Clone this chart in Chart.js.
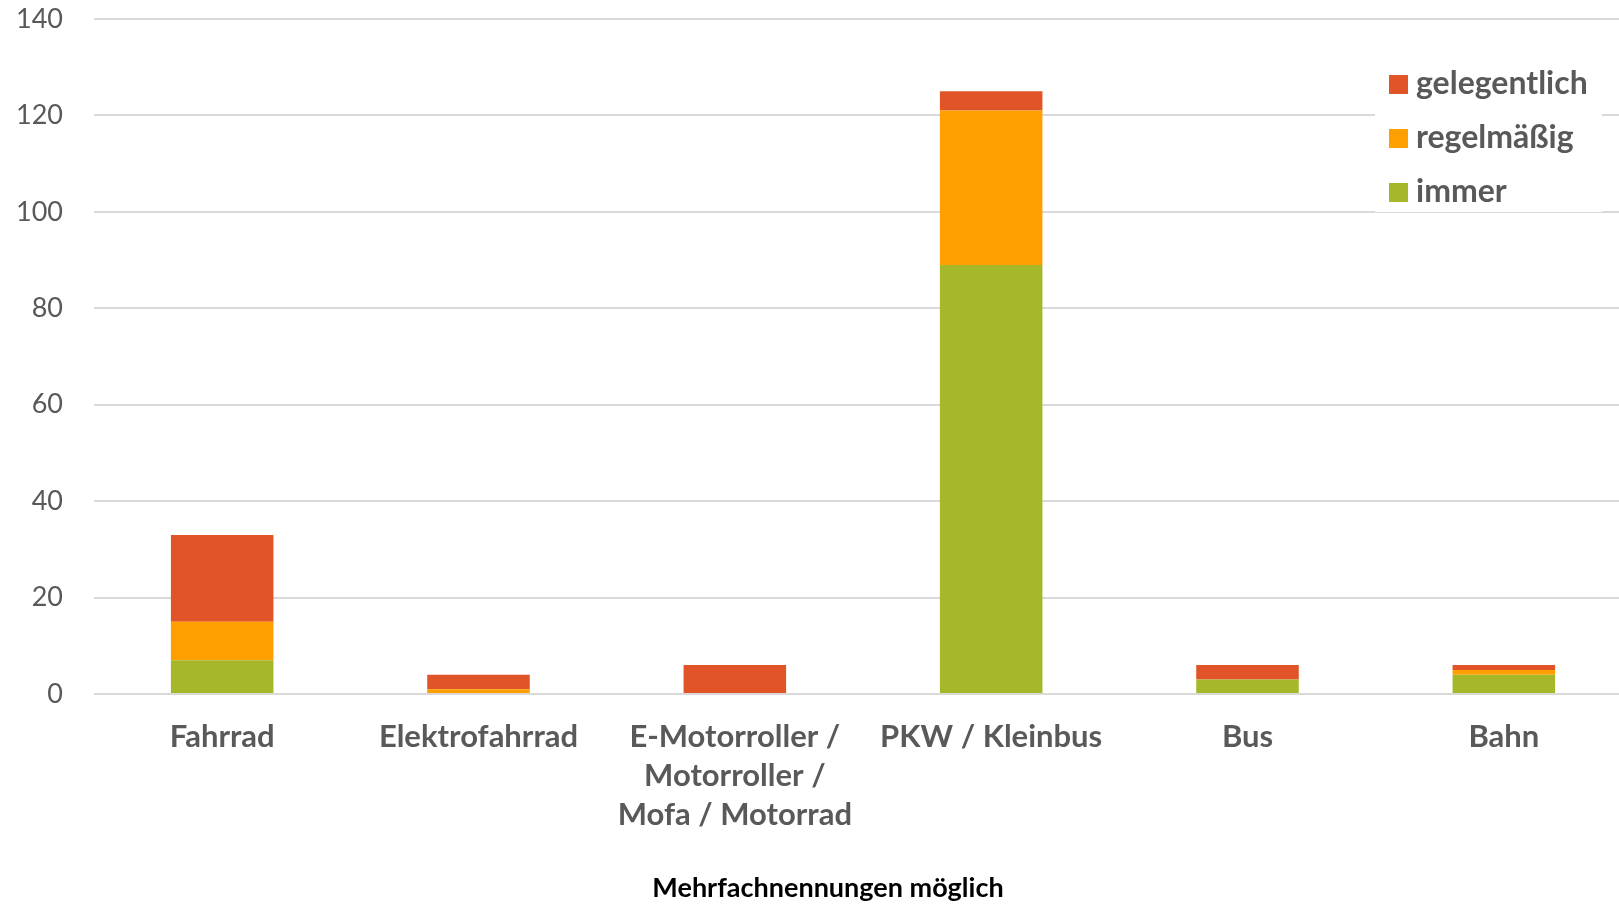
<!DOCTYPE html>
<html>
<head>
<meta charset="utf-8">
<script src="https://cdn.jsdelivr.net/npm/chart.js@4/dist/chart.umd.min.js"></script>
<style>
  html, body { margin: 0; padding: 0; background: #fff; overflow: hidden; }
  #wrap { width: 1619px; height: 905px; overflow: hidden; }
</style>
</head>
<body>
<div id="wrap"><canvas id="chart" width="1632" height="905"></canvas></div>
<script>
const categories = [
  "Fahrrad",
  "Elektrofahrrad",
  ["E-Motorroller /", "Motorroller /", "Mofa / Motorrad"],
  "PKW / Kleinbus",
  "Bus",
  "Bahn"
];
const immer = [7, 0, 0, 89, 3, 4];
const regelmaessig = [8, 1, 0, 32, 0, 1];
const gelegentlich = [18, 3, 6, 4, 3, 1];
const axisTitle = "Mehrfachnennungen möglich";

const textColor = "#595959";
const gridColor = "#d9d9d9";

// legend over the plot (top right, white box) + axis title under the chart
const boxLegend = {
  id: "boxLegend",
  afterDraw(chart) {
    const ctx = chart.ctx;
    const items = chart.data.datasets.slice().reverse();
    ctx.save();
    ctx.fillStyle = "#fff";
    ctx.fillRect(1375, 45, 227, 167);
    ctx.font = "bold 32px Lato";
    ctx.textBaseline = "middle";
    items.forEach((ds, i) => {
      const y = 84 + i * 54;
      ctx.fillStyle = ds.backgroundColor;
      ctx.fillRect(1389, y - 9, 19, 19);
      ctx.fillStyle = textColor;
      ctx.fillText(ds.label, 1416, y);
    });
    ctx.font = "bold 27px Lato";
    ctx.fillStyle = "#000";
    ctx.textAlign = "center";
    ctx.fillText(axisTitle, 828, 888);
    ctx.restore();
  }
};

new Chart(document.getElementById("chart"), {
  type: "bar",
  data: {
    labels: categories,
    datasets: [
      { label: "immer", data: immer, backgroundColor: "#a6b82a" },
      { label: "regelmäßig", data: regelmaessig, backgroundColor: "#ff9f00" },
      { label: "gelegentlich", data: gelegentlich, backgroundColor: "#e05428" }
    ]
  },
  options: {
    responsive: false,
    animation: false,
    layout: { padding: { top: 19, right: 0, left: 0, bottom: 0 } },
    datasets: { bar: { barPercentage: 0.4, categoryPercentage: 1 } },
    plugins: {
      legend: { display: false },
      tooltip: { enabled: false }
    },
    scales: {
      x: {
        stacked: true,
        grid: { display: false, drawTicks: false },
        border: { display: false },
        ticks: {
          color: textColor,
          font: { family: "Lato", size: 31, weight: "bold", lineHeight: 1.27 },
          padding: 23,
          maxRotation: 0,
          autoSkip: false
        },
        afterFit(scale) { scale.height = 211; }
      },
      y: {
        stacked: true,
        min: 0,
        max: 140,
        grid: { color: gridColor, lineWidth: 2, drawTicks: false },
        border: { display: false },
        ticks: {
          stepSize: 20,
          color: textColor,
          font: { family: "Lato", size: 27 },
          padding: 31
        },
        afterFit(scale) {
          scale.width = 94;
          scale.paddingTop = 0;
          scale.paddingBottom = 0;
        }
      }
    }
  },
  plugins: [boxLegend]
});
</script>
</body>
</html>
